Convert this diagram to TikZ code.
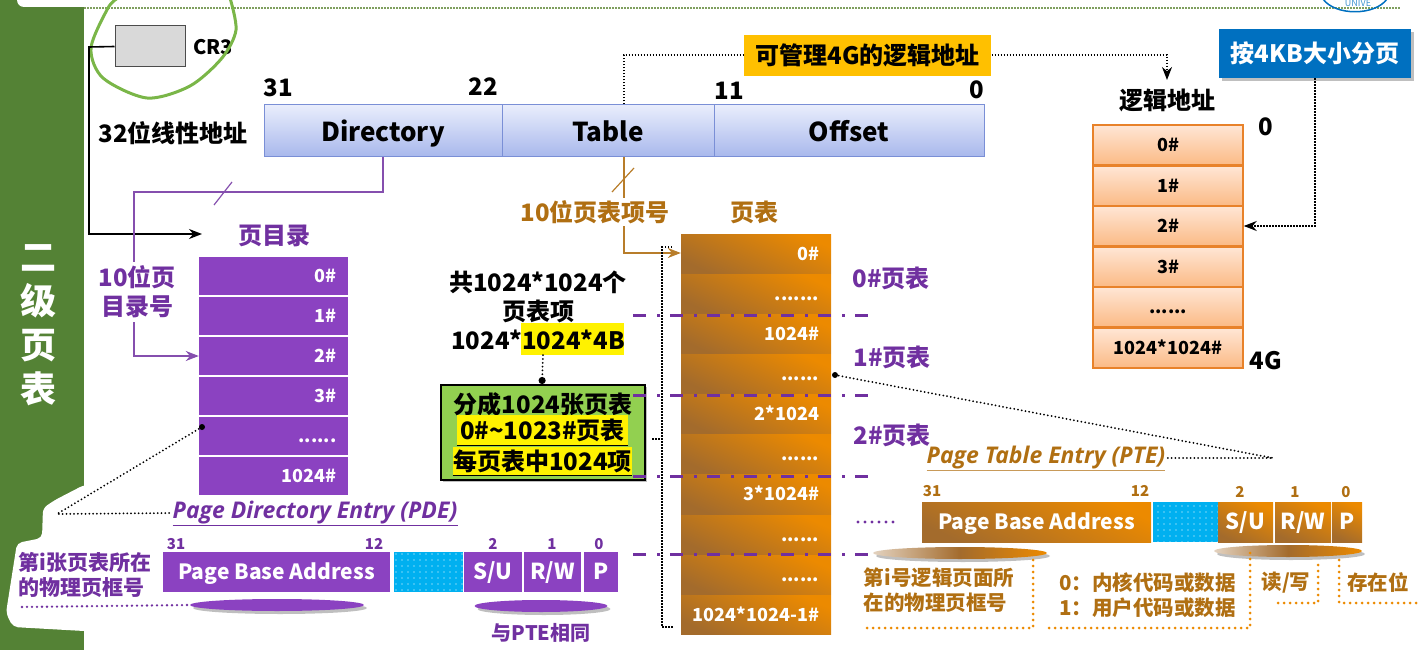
\documentclass[tikz,border=0pt]{standalone}
\usepackage{fontspec}
\setmainfont{Noto Sans CJK SC}
\newfontfamily\slantfamily{Open Sans}
\usetikzlibrary{arrows.meta,shadows,patterns.meta,shapes.geometric}

\definecolor{bandgreen}{HTML}{548235}
\definecolor{ringgreen}{HTML}{7AB648}
\definecolor{rulegreen}{HTML}{7F9F5F}
\definecolor{boxgreen}{HTML}{92D050}
\definecolor{fieldtop}{HTML}{E9EDFC}
\definecolor{fieldbottom}{HTML}{A8B8EC}
\definecolor{fieldline}{HTML}{7A8FD6}
\definecolor{pdpurple}{HTML}{8B42C1}
\definecolor{textpurple}{HTML}{7030A0}
\definecolor{ptorange}{HTML}{EC8A00}
\definecolor{ptbrown}{HTML}{A36B2C}
\definecolor{textbrown}{HTML}{B06F12}
\definecolor{linetop}{HTML}{FFE6D5}
\definecolor{linebottom}{HTML}{FBBA85}
\definecolor{lineedge}{HTML}{E8822A}
\definecolor{hintblue}{HTML}{0070C0}
\definecolor{hintyellow}{HTML}{FFC000}
\definecolor{spareblue}{HTML}{00B0F0}

\tikzset{
    caption/.style={inner sep=0pt, font=\bfseries\fontsize{24}{29}\selectfont},
    smallcaption/.style={inner sep=0pt, font=\bfseries\fontsize{20.5}{25}\selectfont},
    slantcaption/.style={inner sep=0pt, font=\slantfamily\bfseries\itshape\fontsize{23}{23}\selectfont},
    bitlabel/.style={inner sep=0pt, font=\bfseries\fontsize{15}{15}\selectfont},
    fieldcell/.style={draw=fieldline, line width=1pt, top color=fieldtop, bottom color=fieldbottom,
        minimum height=52pt, inner sep=0pt, text height=22pt, text depth=0pt, font=\bfseries\fontsize{26}{26}\selectfont},
    listcell/.style={minimum height=38pt, text width=126pt, inner xsep=12pt, inner ysep=0pt, align=right,
        text height=15pt, text depth=2pt, text=white, font=\bfseries\fontsize{18}{18}\selectfont},
    dircell/.style={listcell, inner xsep=11.5pt, fill=pdpurple},
    tablecell/.style={listcell, minimum height=39pt, top color=ptorange, bottom color=ptbrown, shading angle=-25},
    linecell/.style={draw=lineedge, line width=1.5pt, top color=linetop, bottom color=linebottom,
        minimum width=150pt, minimum height=40pt, inner sep=0pt, text height=15pt, text depth=2pt,
        font=\bfseries\fontsize{18}{18}\selectfont},
    bitcell/.style={minimum height=40pt, inner sep=0pt, text=white, text height=16pt, text depth=2pt,
        font=\bfseries\fontsize{22}{22}\selectfont},
    basebit/.style={font=\bfseries\fontsize{21}{21}\selectfont},
    pdebit/.style={bitcell, fill=pdpurple},
    ptebit/.style={bitcell, top color=ptorange, bottom color=ptbrown, shading angle=-25},
    sparebit/.style={minimum height=40pt, inner sep=0pt, preaction={fill=spareblue},
        pattern={Dots[radius=0.6pt, distance=6pt]}, pattern color=white},
    hintbox/.style={inner sep=0pt, minimum height=41pt, font=\bfseries\fontsize{24}{24}\selectfont},
    lens/.style={ellipse, inner sep=0pt, minimum height=12pt, drop shadow={shadow xshift=3pt, shadow yshift=-3pt}},
    link/.style={line width=1.6pt},
    dotlink/.style={line width=1.5pt, dash pattern=on 1.5pt off 1.5pt},
    bigdots/.style={line width=2pt, line cap=round, dash pattern=on 0pt off 3.8pt},
    orangedots/.style={color=ptorange, line width=3pt, line cap=round, dash pattern=on 0pt off 6pt},
    splitline/.style={color=textpurple, line width=3pt, dash pattern=on 13pt off 11pt on 3pt off 10pt},
    tip/.style={-{Stealth[length=13pt,width=10pt]}}
}

\begin{document}
\begin{tikzpicture}[x=1pt,y=-1pt]
    \useasboundingbox (0,0) rectangle (1422,650);

    \fill[bandgreen] (0,0) rectangle (84,650);
    \fill[white, rounded corners=7pt] (17,-10) -- (17,7) -- (90,7) -- (90,-10) -- cycle;
    \fill[white, rounded corners=5pt] (90,485) -- (84,485) -- (55,500) -- (43,508) -- (42,538) -- (17,543)
        -- (6,613) -- (13,627) -- (84,631) -- (90,631) -- cycle;
    \node[inner sep=0pt, text=white, align=center, font=\bfseries\fontsize{36}{44}\selectfont] (bandtitle) at (38,325) {二\\级\\页\\表};
    \draw[rulegreen, line width=1.5pt, dash pattern=on 1.5pt off 1.5pt] (84,8) -- (1400,8);
    \draw[hintblue, line width=1.5pt] (1323,-1) .. controls (1335,16) and (1375,16) .. (1387,-1);
    \node[inner sep=0pt, text=hintblue!75!white, font=\fontsize{9}{9}\selectfont] (logotext) at (1358,3) {UNIVE};

    \node[draw=black!70, fill=black!15, line width=1pt, minimum width=70pt, minimum height=41pt, inner sep=0pt] (cr3) at (150,46.5) {};
    \node[bitlabel, anchor=west, font=\bfseries\fontsize{20}{20}\selectfont] (cr3label) at (193,47) {CR3};
    \draw[ringgreen, line width=3pt] plot[smooth] coordinates {(118,-2) (108,8) (91,48) (103,78) (147,98) (190,86) (222,58) (236,30) (230,-2)};

    \node[caption] (linearlabel) at (173,133) {32位线性地址};
    \node[caption] (bit31) at (278,88) {31};
    \node[caption] (bit22) at (483,87) {22};
    \node[caption] (bit11) at (729,91) {11};
    \node[caption] (bit0) at (977,90) {0};
    \node[fieldcell, minimum width=238pt] (dirfield) at (383,131) {Directory};
    \node[fieldcell, minimum width=212pt] (tablefield) at (608,131) {Table};
    \node[fieldcell, minimum width=270pt] (offsetfield) at (849,131) {Offset};

    \node[caption] (linetitle) at (1167,100) {逻辑地址};
    \node[caption] (linezero) at (1266,127) {0};
    \node[caption] (linefour) at (1266,361) {4G};
    \node[linecell] (line0) at (1168,145) {0\#};
    \node[linecell] (line1) at (1168,186) {1\#};
    \node[linecell] (line2) at (1168,226) {2\#};
    \node[linecell] (line3) at (1168,267) {3\#};
    \node[linecell] (line4) at (1168,307) {......};
    \node[linecell] (line5) at (1168,348) {1024*1024\#};

    \coordinate (sizeturn) at (624,55);
    \coordinate (sizeright) at (1167,55);
    \coordinate (sizeend) at (1167,80);
    \draw[dotlink, tip] ([xshift=16pt]tablefield.north) -- (sizeturn) -- (sizeright) -- (sizeend);
    \node[hintbox, fill=hintyellow, minimum width=247pt] (sizehint) at (867.5,55.5) {可管理4G的逻辑地址};
    \node[hintbox, fill=hintblue, text=white, minimum width=192pt, minimum height=49pt,
        drop shadow={shadow xshift=3pt, shadow yshift=-3pt}] (pagehint) at (1315,53.5) {按4KB大小分页};
    \draw[dotlink, tip] (pagehint.south) |- (line2.east);

    \node[caption, text=textpurple] (dirtitle) at (274,236) {页目录};
    \node[dircell] (dir0) at (273.5,276) {0\#};
    \node[dircell] (dir1) at (273.5,316) {1\#};
    \node[dircell] (dir2) at (273.5,356) {2\#};
    \node[dircell] (dir3) at (273.5,396) {3\#};
    \node[dircell] (dir4) at (273.5,436) {......};
    \node[dircell] (dir5) at (273.5,476) {1024\#};

    \coordinate (cr3turn) at (89,47);
    \coordinate (cr3low) at (89,234);
    \coordinate (cr3end) at (202,234);
    \draw[link, tip] (cr3.west) -- (cr3turn) -- (cr3low) -- (cr3end);

    \coordinate (dirturn) at (383,192);
    \coordinate (dirleft) at (134,192);
    \coordinate (dirlow) at (134,356);
    \coordinate (dirtickA) at (214,205);
    \coordinate (dirtickB) at (232,182);
    \draw[textpurple!85!white, link, tip] (dirfield.south) -- (dirturn) -- (dirleft) -- (dirlow) -- (dir2.west);
    \draw[textpurple!85!white, line width=1.2pt] (dirtickA) -- (dirtickB);
    \node[caption, text=textpurple, fill=white, align=center, minimum width=106pt, minimum height=60pt] (dirindex) at (137,292) {10位页\\目录号};

    \node[tablecell] (tab0) at (756,253.5) {0\#};
    \node[tablecell] (tab1) at (756,293.5) {.......};
    \node[tablecell] (tab2) at (756,333.5) {1024\#};
    \node[tablecell] (tab3) at (756,373.5) {......};
    \node[tablecell] (tab4) at (756,413.5) {2*1024};
    \node[tablecell] (tab5) at (756,453.5) {......};
    \node[tablecell, minimum height=40pt] (tab6) at (756,494) {3*1024\#};
    \node[tablecell] (tab7) at (756,534.5) {......};
    \node[tablecell] (tab8) at (756,574.5) {......};
    \node[tablecell, text width=134pt, inner xsep=8pt] (tab9) at (756,614.5) {1024*1024-1\#\hspace*{4pt}};

    \coordinate (tableturn) at (624,253);
    \coordinate (tabletickA) at (612,192);
    \coordinate (tabletickB) at (634,168);
    \draw[textbrown!90!white, link, tip] ([xshift=16pt]tablefield.south) -- (tableturn) -- (tab0.west |- tableturn);
    \draw[textbrown!90!white, line width=1.2pt] (tabletickA) -- (tabletickB);
    \node[caption, text=textbrown, fill=white, inner ysep=2pt] (tableindex) at (595,212) {10位页表项号};
    \node[caption, text=textbrown] (tabletitle) at (754,212) {页表};

    \node[caption, align=center] (totalA) at (538,282) {共1024*1024个};
    \node[caption] (totalB) at (538,311) {页表项};
    \node[inner sep=0pt, fill=yellow, minimum width=103pt, minimum height=32pt] (totalmark) at (572.5,339) {};
    \node[caption] (totalC) at (538,340) {1024*1024*4B};

    \node[draw=black, line width=2pt, fill=boxgreen, minimum width=204pt, minimum height=95pt, inner sep=0pt,
        drop shadow={shadow xshift=2pt, shadow yshift=-2pt}] (splitbox) at (543,432.5) {};
    \draw[bigdots, {Circle[length=7pt]}-] (splitbox.north) ++(-1,0) -- (totalmark.south -| splitbox.north);
    \node[caption] (splitA) at (543,404) {分成1024张页表};
    \node[caption, fill=yellow, minimum width=171pt, minimum height=30pt] (splitB) at (542.5,430) {0\#\textasciitilde1023\#页表};
    \node[caption, fill=yellow, minimum width=179pt, minimum height=28pt] (splitC) at (542.5,461) {每页表中1024项};
    \draw[line width=1pt] (splitB.south west) -- (splitB.south east);
    \draw[line width=1pt] (splitC.south west) -- (splitC.south east);

    \coordinate (bracketTopEnd) at (672,247);
    \coordinate (bracketTop) at (662,247);
    \coordinate (bracketLow) at (662,627);
    \coordinate (bracketLowEnd) at (673,627);
    \coordinate (bracketMid) at (662,439);
    \draw[dotlink] (bracketTopEnd) -- (bracketTop) -- (bracketLow) -- (bracketLowEnd);
    \draw[dotlink] (splitbox.east |- bracketMid) ++(6,0) -- (bracketMid);

    \coordinate (splitAL) at (633,315);
    \coordinate (splitAR) at (870,315);
    \coordinate (splitBL) at (633,395);
    \coordinate (splitBR) at (870,395);
    \coordinate (splitCL) at (633,476);
    \coordinate (splitCR) at (870,476);
    \coordinate (splitDL) at (633,554);
    \coordinate (splitDR) at (870,554);
    \draw[splitline] (splitAL) -- (splitAR);
    \draw[splitline] (splitBL) -- (splitBR);
    \draw[splitline] (splitCL) -- (splitCR);
    \draw[splitline] (splitDL) -- (splitDR);
    \node[caption, text=textpurple] (zerotable) at (891,278) {0\#页表};
    \node[caption, text=textpurple] (onetable) at (892,357) {1\#页表};
    \node[caption, text=textpurple] (twotable) at (892,435) {2\#页表};

    \node[slantcaption, text=textpurple] (pdetitle) at (315,513) {Page Directory Entry (PDE)};
    \draw[textpurple, line width=1pt] (pdetitle.west |- 0,525) -- (pdetitle.east |- 0,525);
    \coordinate (pdebend) at (57,514);
    \coordinate (pdestart) at (202,427);
    \draw[bigdots] (pdestart) -- (pdebend) -- (pdetitle.west);
    \fill (pdestart) circle (3pt);

    \node[smallcaption, text=textpurple, align=left, font=\bfseries\fontsize{21}{25}\selectfont] (pdenote) at (85,574.5) {第i张页表所在\\的物理页框号};
    \node[bitlabel, text=textpurple] (pde31) at (176,544) {31};
    \node[bitlabel, text=textpurple] (pde12) at (374,544) {12};
    \node[bitlabel, text=textpurple] (pde2) at (493,544) {2};
    \node[bitlabel, text=textpurple] (pde1) at (552,544) {1};
    \node[bitlabel, text=textpurple] (pde0) at (599,544) {0};
    \node[pdebit, basebit, minimum width=227pt] (pdebase) at (276.5,572) {Page Base Address};
    \node[sparebit, minimum width=69pt] (pdespare) at (428.5,572) {};
    \node[pdebit, minimum width=58pt] (pdesu) at (493,572) {S/U};
    \node[pdebit, minimum width=57pt] (pderw) at (552.5,572) {R/W};
    \node[pdebit, minimum width=34pt] (pdep) at (601,572) {P};
    \node[lens, fill=pdpurple, minimum width=174pt] (pdelensA) at (277,605) {};
    \node[lens, fill=pdpurple, minimum width=133pt] (pdelensB) at (541,606) {};
    \coordinate (pdenoteend) at (22,607);
    \draw[textpurple, line width=2.6pt, line cap=round, dash pattern=on 0pt off 5pt] (pdenoteend) -- (pdelensA.west);
    \node[smallcaption, text=textpurple, font=\bfseries\fontsize{20}{20}\selectfont] (samenote) at (541,633) {与PTE相同};

    \node[slantcaption, text=textbrown] (ptetitle) at (1046,458) {Page Table Entry (PTE)};
    \draw[textbrown!70!white, line width=1pt] (ptetitle.west |- 0,470) -- (ptetitle.east |- 0,470);
    \coordinate (ptebend) at (1273,458);
    \coordinate (ptestart) at (835,375);
    \draw[bigdots] (ptestart) -- (ptebend) -- (ptetitle.east);
    \fill (ptestart) circle (3pt);
    \coordinate (moreA) at (858,522);
    \coordinate (moreB) at (900,522);
    \draw[textpurple, line width=3.2pt, line cap=round, dash pattern=on 0pt off 7pt] (moreA) -- (moreB);

    \node[bitlabel, text=textbrown] (pte31) at (932,491) {31};
    \node[bitlabel, text=textbrown] (pte12) at (1140,491) {12};
    \node[bitlabel, text=textbrown] (pte2) at (1240,492) {2};
    \node[bitlabel, text=textbrown] (pte1) at (1295,492) {1};
    \node[bitlabel, text=textbrown] (pte0) at (1346,492) {0};
    \node[ptebit, basebit, minimum width=229pt] (ptebase) at (1036.5,522) {Page Base Address};
    \node[sparebit, minimum width=65pt] (ptespare) at (1185.5,522) {};
    \node[ptebit, minimum width=55pt] (ptesu) at (1245.5,522) {S/U};
    \node[ptebit, minimum width=56pt] (pterw) at (1303,522) {R/W};
    \node[ptebit, minimum width=30pt] (ptep) at (1347,522) {P};
    \node[lens, minimum width=174pt, left color=ptbrown!30!white, right color=ptorange, middle color=ptbrown] (ptelensA) at (960,553) {};
    \node[lens, minimum width=148pt, left color=ptbrown!30!white, right color=ptorange, middle color=ptbrown] (ptelensB) at (1288,551) {};

    \node[smallcaption, text=textbrown, align=left] (ptenoteA) at (939,590.5) {第i号逻辑页面所\\在的物理页框号};
    \node[smallcaption, text=textbrown, align=left] (ptenoteB) at (1147.5,595.5) {0：内核代码或数据\\1：用户代码或数据};
    \node[smallcaption, text=textbrown] (ptenoteC) at (1286,583) {读/写};
    \node[smallcaption, text=textbrown] (ptenoteD) at (1378,583) {存在位};

    \coordinate (dotAtop) at (1033,560);
    \coordinate (dotAlow) at (1033,628);
    \coordinate (dotAend) at (864,628);
    \coordinate (dotBtop) at (1250,553);
    \coordinate (dotBlow) at (1250,628);
    \coordinate (dotBend) at (1048,628);
    \coordinate (dotCtop) at (1318,565);
    \coordinate (dotClow) at (1318,603);
    \coordinate (dotCend) at (1274,603);
    \coordinate (dotDtop) at (1339,560);
    \coordinate (dotDlow) at (1339,603);
    \coordinate (dotDend) at (1420,603);
    \draw[orangedots] (dotAtop) -- (dotAlow) -- (dotAend);
    \draw[orangedots] (dotBtop) -- (dotBlow) -- (dotBend);
    \draw[orangedots] (dotCtop) -- (dotClow) -- (dotCend);
    \draw[orangedots] (dotDtop) -- (dotDlow) -- (dotDend);
\end{tikzpicture}
\end{document}
